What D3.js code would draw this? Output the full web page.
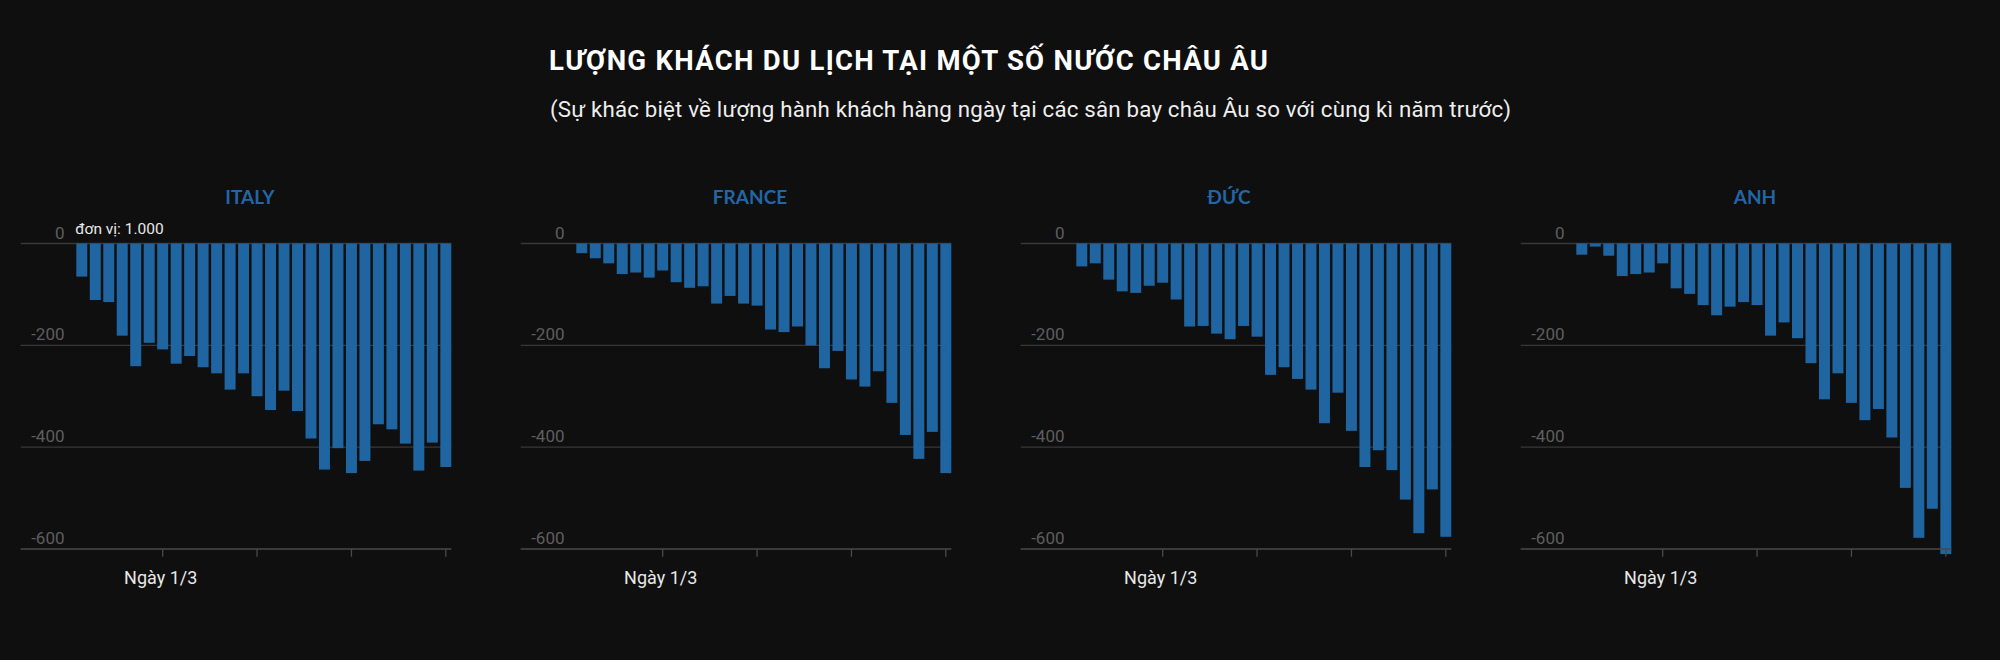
<!DOCTYPE html>
<html>
<head>
<meta charset="utf-8">
<script src="https://cdn.jsdelivr.net/npm/d3@7"></script>
<style>
  html, body { margin: 0; padding: 0; background: #0f0f0f; }
  svg { display: block; }
</style>
</head>
<body>
<svg id="chart" width="2000" height="660"></svg>
<script>
// values in thousands of passengers, daily diff vs same day last year (24/2 -> 22/3)
let countries = ["ITALY", "FRANCE", "ĐỨC", "ANH"]
let italy = [-65, -111, -115, -181, -241, -195, -208, -236, -221, -243, -255, -287, -255, -300,
    -327, -289, -329, -383, -444, -402, -451, -427, -355, -365, -393, -446, -391, -439]
let france = [-19, -29, -39, -60, -57, -67, -53, -76, -87, -84, -118, -103, -118, -122,
    -169, -174, -163, -200, -245, -211, -267, -281, -251, -313, -376, -423, -370, -451]
let duc = [-45, -39, -71, -94, -97, -83, -77, -110, -163, -162, -177, -188, -162, -183,
    -258, -243, -266, -287, -353, -293, -368, -439, -406, -445, -503, -569, -483, -576]
let anh = [-22, -6, -24, -64, -60, -57, -39, -88, -99, -121, -141, -124, -115, -121,
    -181, -155, -186, -235, -306, -255, -313, -347, -325, -381, -480, -578, -521, -610]
let series = [italy, france, duc, anh]
let yTicks = [0, -200, -400, -600]
let startDay = new Date(2020, 1, 24)
let tickDays = ["2020-03-01", "2020-03-08", "2020-03-15", "2020-03-22"]

let title = "LƯỢNG KHÁCH DU LỊCH TẠI MỘT SỐ NƯỚC CHÂU ÂU"
let subtitle = "(Sự khác biệt về lượng hành khách hàng ngày tại các sân bay châu Âu so với cùng kì năm trước)"

const blue = "#1f65a1"
const panelW = 500
const titleShift = [0, 0, -21, 5] // panel titles are not quite centred in the original
const plotLeft = 20.7, barLeft = 76.3, plotRight = 451.3

let dates = italy.map((v, i) => d3.timeDay.offset(startDay, i))
let fmt = d3.timeFormat("%Y-%m-%d")

let svg = d3.select("#chart")

// heading is a bit more spaced out than plain Roboto, stretch it to the original width
svg.append("text")
    .attr("x", 549).attr("y", 69.5)
    .attr("font-family", "Roboto").attr("font-weight", 700).attr("font-size", 27.5)
    .attr("textLength", 719).attr("lengthAdjust", "spacing")
    .attr("fill", "#ffffff")
    .text(title)

svg.append("text")
    .attr("x", 550).attr("y", 116.5)
    .attr("font-family", "Roboto").attr("font-size", 22.3)
    .attr("textLength", 961).attr("lengthAdjust", "spacing")
    .attr("fill", "#eeeeee")
    .text(subtitle)

let y = d3.scaleLinear().domain([-600, 0]).range([549, 243.5])
let x = d3.scaleBand()
    .domain(dates.map(fmt))
    .range([barLeft, plotRight])
    .paddingInner(0.185)
    .paddingOuter(0)

countries.forEach((name, k) => {
    let g = svg.append("g").attr("transform", `translate(${k * panelW},0)`)
    let vals = series[k]

    g.append("text")
        .attr("x", panelW / 2 + titleShift[k]).attr("y", 204.3)
        .attr("text-anchor", "middle")
        .attr("font-family", "Lato").attr("font-weight", 700).attr("font-size", 19)
        .attr("fill", "#2266a6")
        .text(name)

    // grid
    g.selectAll(".grid").data(yTicks.slice(0, -1)).join("line")
        .attr("class", "grid")
        .attr("x1", plotLeft).attr("x2", plotRight)
        .attr("y1", d => y(d)).attr("y2", d => y(d))
        .attr("stroke", "#383838").attr("stroke-width", 1.3)

    g.selectAll(".ylab").data(yTicks).join("text")
        .attr("class", "ylab")
        .attr("x", 64.5).attr("y", d => y(d) - 5)
        .attr("text-anchor", "end")
        .attr("font-family", "Roboto").attr("font-size", 17)
        .attr("fill", "#5e5e5e")
        .text(d => d)

    g.selectAll(".bar").data(vals).join("rect")
        .attr("class", "bar")
        .attr("x", (d, i) => x(fmt(dates[i])))
        .attr("width", x.bandwidth())
        .attr("y", y(0))
        .attr("height", d => y(d) - y(0))
        .attr("fill", blue)

    // x axis on the -600 line
    let ax = g.append("g").attr("transform", `translate(0,${y(-600)})`)
    ax.append("line")
        .attr("x1", plotLeft).attr("x2", plotRight)
        .attr("stroke", "#4a4a4a").attr("stroke-width", 1.3)
    ax.selectAll(".tk").data(tickDays).join("line")
        .attr("class", "tk")
        .attr("x1", d => x(d) + x.bandwidth() / 2).attr("x2", d => x(d) + x.bandwidth() / 2)
        .attr("y1", 0).attr("y2", 7.7)
        .attr("stroke", "#4a4a4a").attr("stroke-width", 1.3)

    ax.append("text")
        .attr("x", x(tickDays[0]) + x.bandwidth() / 2 - 2).attr("y", 35)
        .attr("text-anchor", "middle")
        .attr("font-family", "Roboto").attr("font-size", 18)
        .attr("fill", "#e8e8e8")
        .text("Ngày 1/3")

    if (k == 0) {
        g.append("text")
            .attr("x", 75.3).attr("y", 234)
            .attr("font-family", "Roboto").attr("font-size", 15.5)
            .attr("fill", "#e8e8e8")
            .text("đơn vị: 1.000")
    }
})
</script>
</body>
</html>
